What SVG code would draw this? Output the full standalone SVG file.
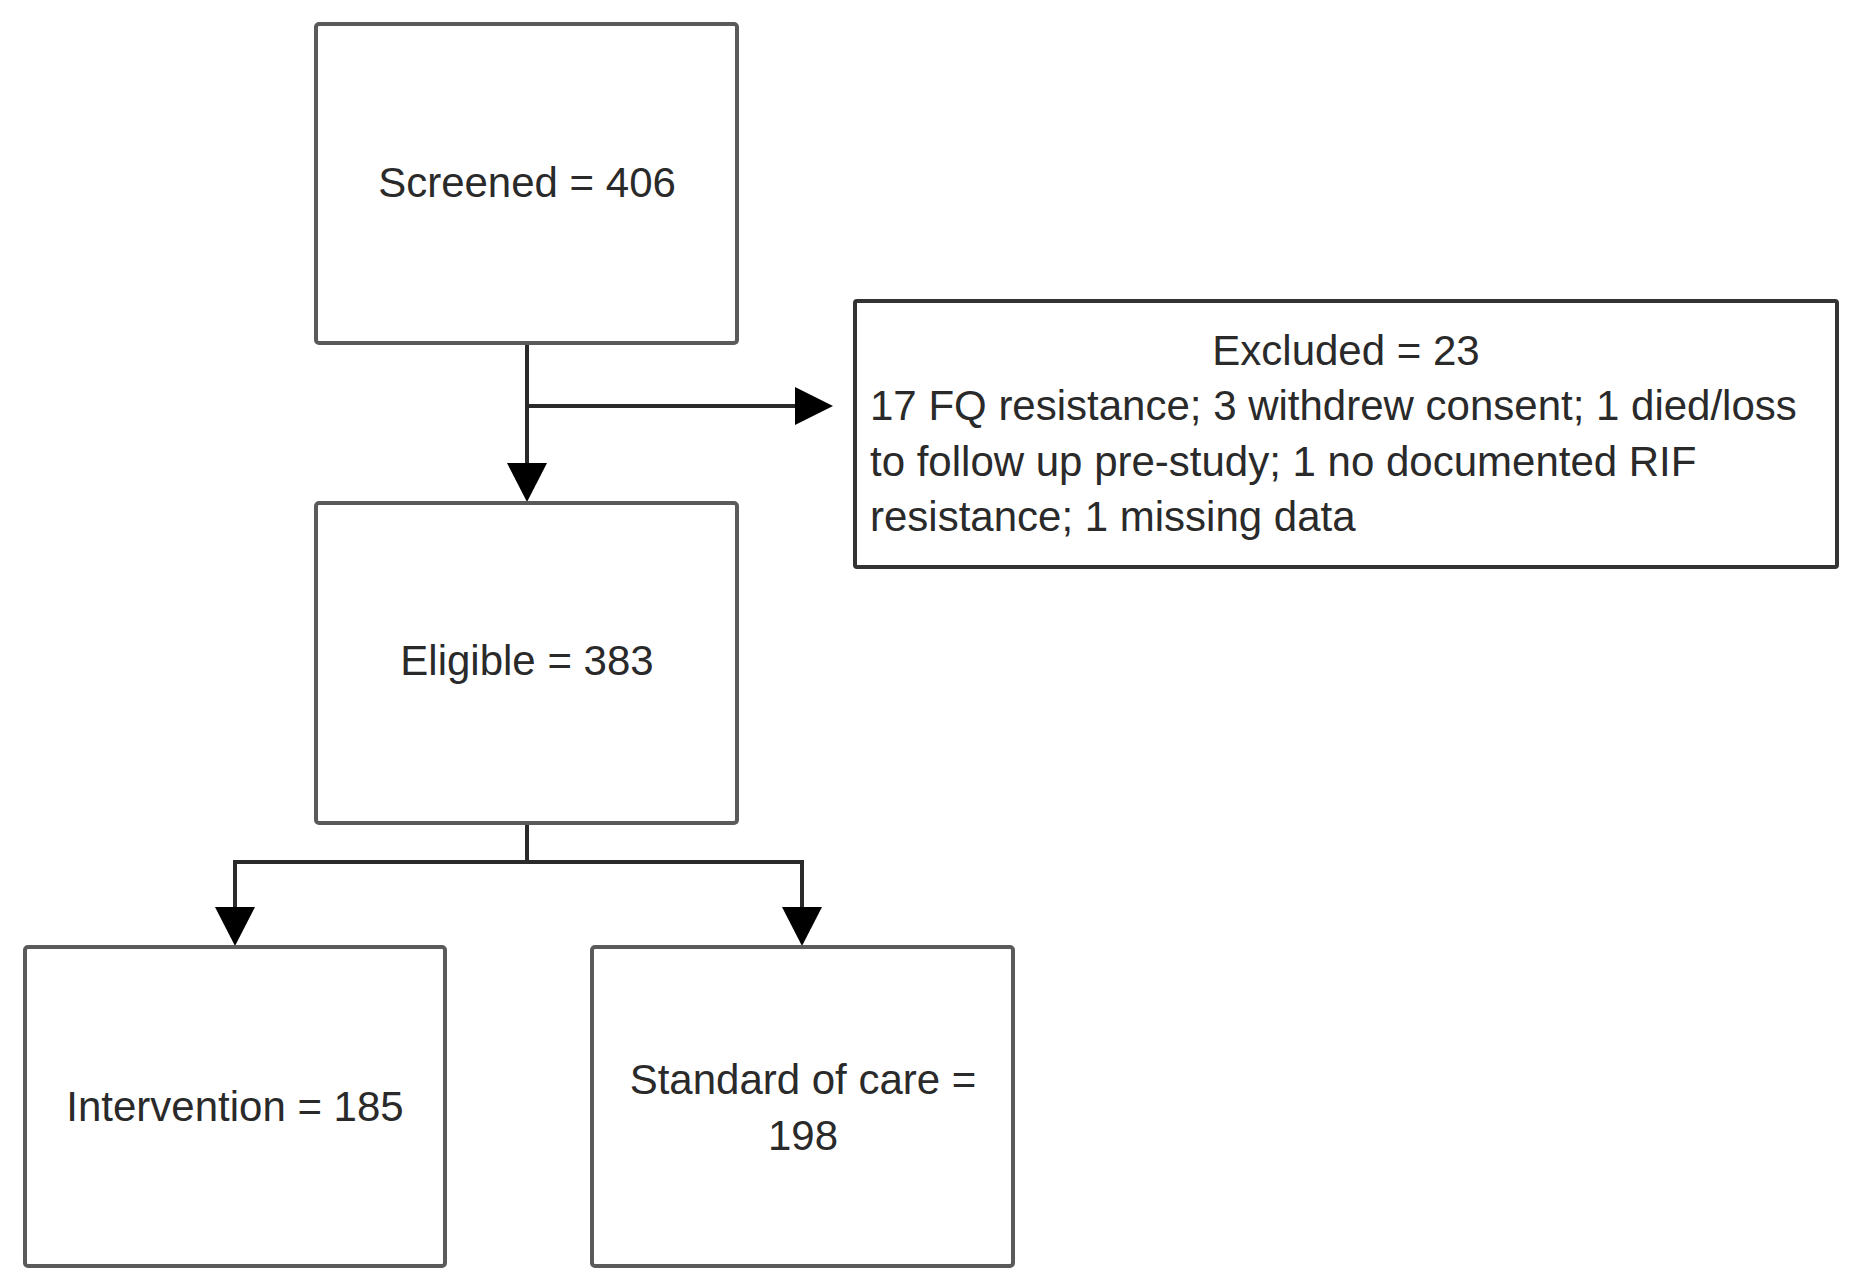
<svg xmlns="http://www.w3.org/2000/svg" width="1855" height="1287" viewBox="0 0 1855 1287">
  <style>
    .box { fill: #ffffff; stroke: #5a5a5a; stroke-width: 4; }
    .box-dark { fill: #ffffff; stroke: #333333; stroke-width: 4; }
    .lbl { font-family: "Liberation Sans", Arial, sans-serif; font-size: 42px; fill: #2a2a2a; }
    .mid { text-anchor: middle; }
    .conn { fill: none; stroke: #2a2a2a; stroke-width: 4; }
    .head { fill: #000000; stroke: none; }
  </style>
  <rect width="1855" height="1287" fill="#ffffff"/>

  <g id="connectors">
    <line class="conn" x1="527" y1="343" x2="527" y2="470"/>
    <polygon class="head" points="507,463 547,463 527,502"/>
    <line class="conn" x1="527" y1="406" x2="800" y2="406"/>
    <polygon class="head" points="795,387 795,425 833,406"/>
    <polyline class="conn" points="527,823 527,862"/>
    <polyline class="conn" points="235,912 235,862 802,862 802,912"/>
    <polygon class="head" points="215,907 255,907 235,946"/>
    <polygon class="head" points="782,907 822,907 802,946"/>
  </g>

  <g id="screened">
    <rect class="box" x="316" y="24" width="421" height="319" rx="3"/>
    <text class="lbl mid" x="527" y="197">Screened = 406</text>
  </g>

  <g id="excluded">
    <rect class="box-dark" x="855" y="301" width="982" height="266" rx="2"/>
    <text class="lbl mid" x="1346" y="365">Excluded = 23</text>
    <text class="lbl" x="870" y="420">17 FQ resistance; 3 withdrew consent; 1 died/loss</text>
    <text class="lbl" x="870" y="476">to follow up pre-study; 1 no documented RIF</text>
    <text class="lbl" x="870" y="531">resistance; 1 missing data</text>
  </g>

  <g id="eligible">
    <rect class="box" x="316" y="503" width="421" height="320" rx="3"/>
    <text class="lbl mid" x="527" y="675">Eligible = 383</text>
  </g>

  <g id="intervention">
    <rect class="box" x="25" y="947" width="420" height="319" rx="3"/>
    <text class="lbl mid" x="235" y="1121">Intervention = 185</text>
  </g>

  <g id="standard">
    <rect class="box" x="592" y="947" width="421" height="319" rx="3"/>
    <text class="lbl mid" x="803" y="1094">Standard of care =</text>
    <text class="lbl mid" x="803" y="1150">198</text>
  </g>
</svg>
